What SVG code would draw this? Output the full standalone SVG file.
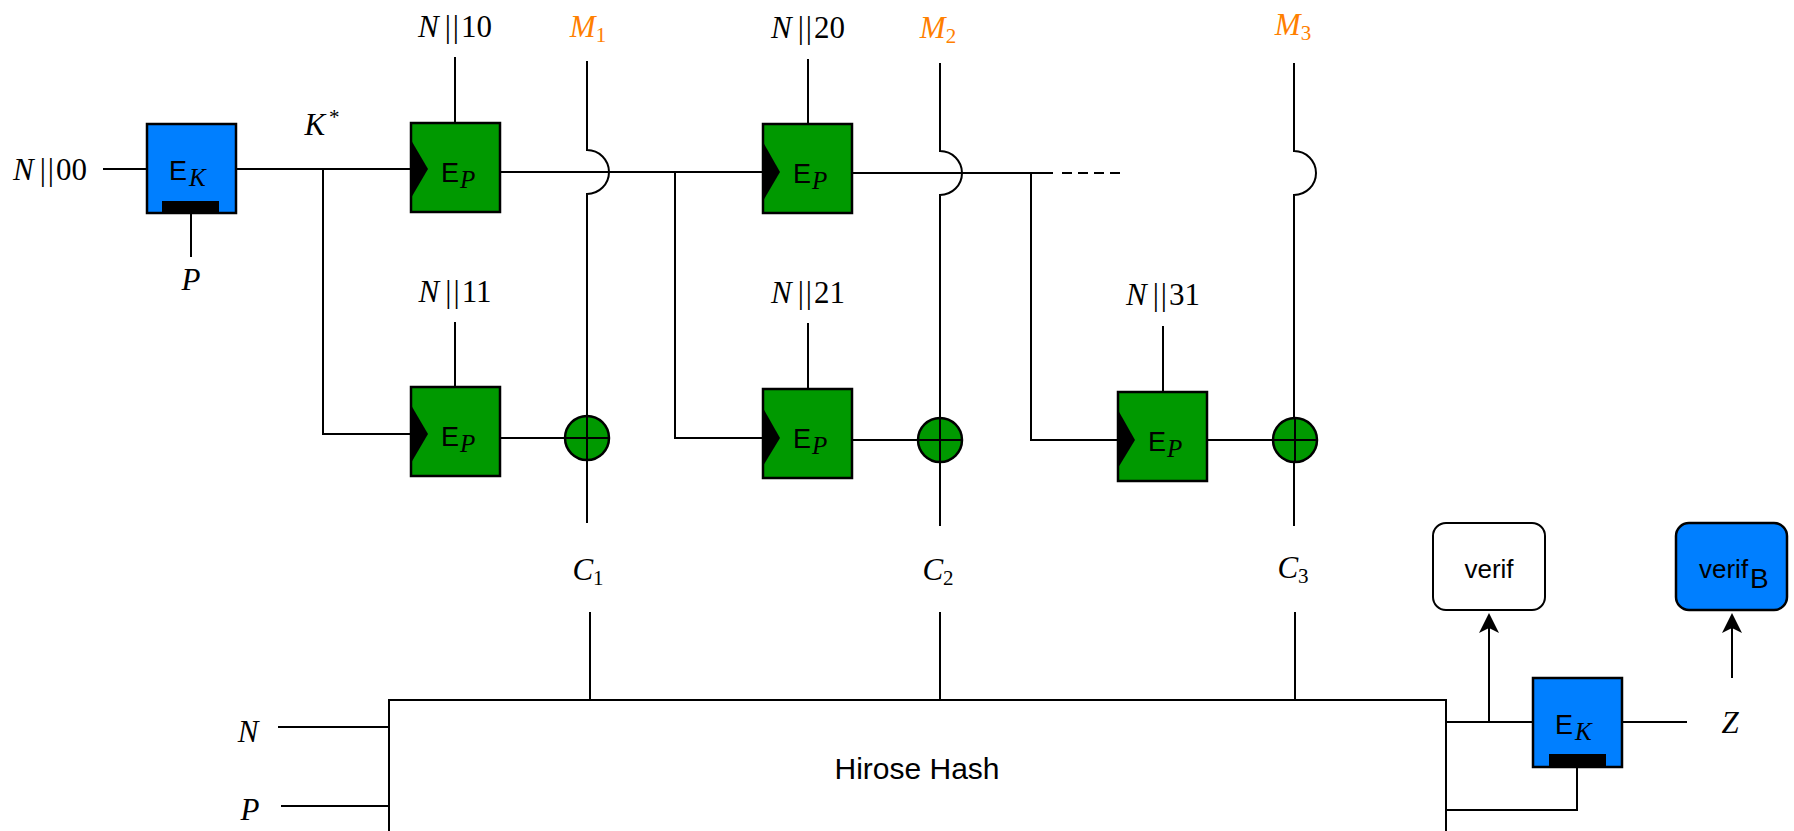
<svg xmlns="http://www.w3.org/2000/svg" width="1794" height="831" viewBox="0 0 1794 831">
<style>
.ln{stroke:#000;stroke-width:2;fill:none}
.dash{stroke:#000;stroke-width:2;fill:none;stroke-dasharray:10 6}
.bg{fill:#009900;stroke:#000;stroke-width:2.5}
.bb{fill:#007FFF;stroke:#000;stroke-width:2.5}
.bw{fill:#FFFFFF;stroke:#000;stroke-width:2}
.bar{fill:#000}
.chev{fill:#000}
.m{font-family:"Liberation Serif","Times New Roman",serif;font-size:31px;fill:#000}
.or{fill:#FF8000}
.it{font-style:italic}
.sub{font-size:21px}
.s{font-family:"Liberation Sans",Arial,sans-serif;fill:#000}
.e{font-size:27px}
.ps{font-family:"Liberation Serif","Times New Roman",serif;font-style:italic;font-size:25px}
</style>
<defs>
<marker id="arr" markerUnits="userSpaceOnUse" viewBox="0 0 20 20" markerWidth="20" markerHeight="20" refX="5" refY="10" orient="auto">
<path d="M0 0 L20 10 L0 20 L5 10 Z" fill="#000"/>
</marker>
</defs>

<g id="connectors">
<path class="ln" d="M103 169 H147"/>
<path class="ln" d="M236 169 H411"/>
<path class="ln" d="M323 169 V434 H411"/>
<path class="ln" d="M191 213 V257"/>
<path class="ln" d="M500 172 H763"/>
<path class="ln" d="M675 172 V438 H763"/>
<path class="ln" d="M852 173 H1053"/>
<path class="ln" d="M1031 173 V440 H1118"/>
<path class="dash" d="M1062 173 H1122"/>
<path class="ln" d="M587 61 V150 A22 22 0 0 1 587 194 V523"/>
<path class="ln" d="M940 63 V151 A22 22 0 0 1 940 195 V526"/>
<path class="ln" d="M1294 63 V151 A22 22 0 0 1 1294 195 V526"/>
<path class="ln" d="M455 57 V123"/>
<path class="ln" d="M808 59 V124"/>
<path class="ln" d="M455 322 V387"/>
<path class="ln" d="M808 323 V389"/>
<path class="ln" d="M1163 326 V392"/>
<path class="ln" d="M500 438 H587"/>
<path class="ln" d="M852 440 H940"/>
<path class="ln" d="M1207 440 H1295"/>
<path class="ln" d="M590 612 V700"/>
<path class="ln" d="M940 612 V700"/>
<path class="ln" d="M1295 612 V700"/>
<path class="ln" d="M278 727 H389"/>
<path class="ln" d="M281 806 H389"/>
<path class="ln" d="M1446 722 H1533"/>
<path class="ln" d="M1489 722 V628" marker-end="url(#arr)"/>
<path class="ln" d="M1622 722 H1687"/>
<path class="ln" d="M1732 678 V628" marker-end="url(#arr)"/>
<path class="ln" d="M1577 767 V810 H1446"/>
</g>

<g id="ek1">
<rect class="bb" x="147" y="124" width="89" height="89"/>
<rect class="bar" x="162" y="201" width="57" height="12"/>
<text class="s e" x="169" y="180">E</text>
<text class="ps" x="189" y="186">K</text>
</g>

<g id="ep1">
<rect class="bg" x="411" y="123" width="89" height="89"/>
<polygon class="chev" points="411,140 428,169 411,198"/>
<text class="s e" x="441" y="182">E</text>
<text class="ps" x="460" y="188">P</text>
</g>
<g id="ep2">
<rect class="bg" x="763" y="124" width="89" height="89"/>
<polygon class="chev" points="763,142 780,172 763,201"/>
<text class="s e" x="793" y="183">E</text>
<text class="ps" x="812" y="189">P</text>
</g>
<g id="ep3">
<rect class="bg" x="411" y="387" width="89" height="89"/>
<polygon class="chev" points="411,405 428,434 411,463"/>
<text class="s e" x="441" y="446">E</text>
<text class="ps" x="460" y="452">P</text>
</g>
<g id="ep4">
<rect class="bg" x="763" y="389" width="89" height="89"/>
<polygon class="chev" points="763,408 780,438 763,466"/>
<text class="s e" x="793" y="448">E</text>
<text class="ps" x="812" y="454">P</text>
</g>
<g id="ep5">
<rect class="bg" x="1118" y="392" width="89" height="89"/>
<polygon class="chev" points="1118,410 1135,440 1118,468"/>
<text class="s e" x="1148" y="451">E</text>
<text class="ps" x="1167" y="457">P</text>
</g>

<g id="xor1">
<circle class="bg" cx="587" cy="438" r="22" stroke-width="2"/>
<path class="ln" d="M565 438 H609 M587 416 V460"/>
</g>
<g id="xor2">
<circle class="bg" cx="940" cy="440" r="22" stroke-width="2"/>
<path class="ln" d="M918 440 H962 M940 418 V462"/>
</g>
<g id="xor3">
<circle class="bg" cx="1295" cy="440" r="22" stroke-width="2"/>
<path class="ln" d="M1273 440 H1317 M1295 418 V462"/>
</g>

<g id="hirose">
<rect class="bw" x="389" y="700" width="1057" height="180"/>
<text class="s" x="917" y="779" font-size="30" text-anchor="middle">Hirose Hash</text>
</g>

<g id="verif">
<rect class="bw" x="1433" y="523" width="112" height="87" rx="13"/>
<text class="s" x="1489" y="578" font-size="26" text-anchor="middle">verif</text>
</g>
<g id="verifB">
<rect class="bb" x="1676" y="523" width="111" height="87" rx="13" stroke-width="2"/>
<text class="s" x="1699" y="578" font-size="26">verif</text>
<text class="s" x="1750" y="588" font-size="28">B</text>
</g>

<g id="ek2">
<rect class="bb" x="1533" y="678" width="89" height="89"/>
<rect class="bar" x="1549" y="754" width="57" height="13"/>
<text class="s e" x="1555" y="734">E</text>
<text class="ps" x="1575" y="740">K</text>
</g>

<g id="labels">
<text class="m" x="50" y="180" text-anchor="middle"><tspan class="it">N</tspan><tspan dx="6">|</tspan><tspan dx="2">|</tspan><tspan dx="2">00</tspan></text>
<text class="m" x="322" y="135" text-anchor="middle"><tspan class="it">K</tspan><tspan class="sub" dx="4" dy="-11">*</tspan></text>
<text class="m" x="191" y="290" text-anchor="middle"><tspan class="it">P</tspan></text>
<text class="m" x="455" y="37" text-anchor="middle"><tspan class="it">N</tspan><tspan dx="6">|</tspan><tspan dx="2">|</tspan><tspan dx="2">10</tspan></text>
<text class="m" x="808" y="38" text-anchor="middle"><tspan class="it">N</tspan><tspan dx="6">|</tspan><tspan dx="2">|</tspan><tspan dx="2">20</tspan></text>
<text class="m" x="455" y="302" text-anchor="middle"><tspan class="it">N</tspan><tspan dx="6">|</tspan><tspan dx="2">|</tspan><tspan dx="2">11</tspan></text>
<text class="m" x="808" y="303" text-anchor="middle"><tspan class="it">N</tspan><tspan dx="6">|</tspan><tspan dx="2">|</tspan><tspan dx="2">21</tspan></text>
<text class="m" x="1163" y="305" text-anchor="middle"><tspan class="it">N</tspan><tspan dx="6">|</tspan><tspan dx="2">|</tspan><tspan dx="2">31</tspan></text>
<text class="m or" x="588" y="37" text-anchor="middle"><tspan class="it">M</tspan><tspan class="sub" dy="5">1</tspan></text>
<text class="m or" x="938" y="38" text-anchor="middle"><tspan class="it">M</tspan><tspan class="sub" dy="5">2</tspan></text>
<text class="m or" x="1293" y="35" text-anchor="middle"><tspan class="it">M</tspan><tspan class="sub" dy="5">3</tspan></text>
<text class="m" x="588" y="580" text-anchor="middle"><tspan class="it">C</tspan><tspan class="sub" dy="5">1</tspan></text>
<text class="m" x="938" y="580" text-anchor="middle"><tspan class="it">C</tspan><tspan class="sub" dy="5">2</tspan></text>
<text class="m" x="1293" y="578" text-anchor="middle"><tspan class="it">C</tspan><tspan class="sub" dy="5">3</tspan></text>
<text class="m" x="248" y="742" text-anchor="middle"><tspan class="it">N</tspan></text>
<text class="m" x="250" y="820" text-anchor="middle"><tspan class="it">P</tspan></text>
<text class="m" x="1730" y="733" text-anchor="middle"><tspan class="it">Z</tspan></text>
</g>
</svg>
